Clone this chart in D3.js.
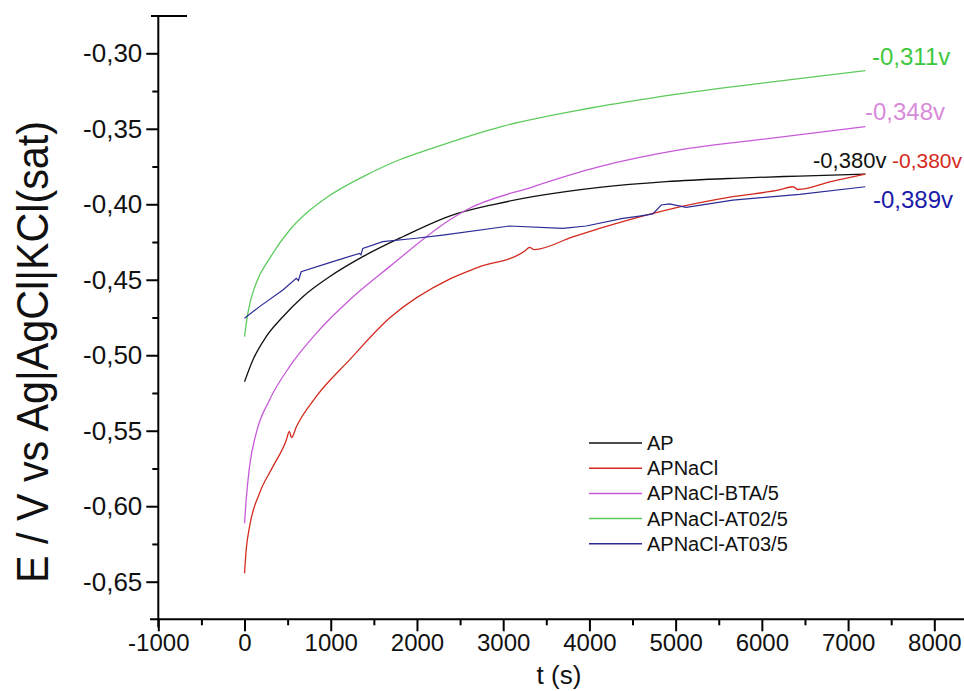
<!DOCTYPE html>
<html>
<head>
<meta charset="utf-8">
<script src="https://cdn.jsdelivr.net/npm/d3@7"></script>
<style>
  body { margin: 0; background: white; }
  text { font-family: "Liberation Sans", Arial, sans-serif; }
</style>
</head>
<body>
<div id="main-section"></div>
<script>
// values
const seriesNames = ["AP", "APNaCl", "APNaCl-BTA/5", "APNaCl-AT02/5", "APNaCl-AT03/5"];
const seriesColors = ["#111111", "#d42a1e", "#c75ad8", "#5ccb5c", "#2b2b96"];

const tAP = [0, 97, 251, 445, 677, 986, 1372, 1836, 2378, 2900, 3344, 4117, 4891, 5664, 6437, 7200];
const vAP = [-0.5175, -0.5031, -0.4877, -0.4745, -0.4612, -0.448, -0.4347, -0.4215, -0.4078, -0.400, -0.395, -0.3888, -0.385, -0.3828, -0.3813, -0.380];

const tNaCl = [0, 19, 58, 174, 329, 480, 520, 545, 600, 831, 1218, 1682, 2378, 2700, 3250, 3306, 3360, 3800, 4117, 4891, 5664, 6200, 6360, 6420, 6800, 7200];
const vNaCl = [-0.6444, -0.629, -0.6136, -0.5914, -0.5738, -0.557, -0.5505, -0.5545, -0.5475, -0.5274, -0.5031, -0.4754, -0.4496, -0.4420, -0.4310, -0.4285, -0.4300, -0.4218, -0.4160, -0.4038, -0.395, -0.3905, -0.3884, -0.3902, -0.3850, -0.380];

const tBTA = [0, 19, 58, 135, 290, 522, 831, 1218, 1682, 2378, 2571, 3344, 4117, 5045, 6000, 7200];
const vBTA = [-0.6113, -0.5959, -0.5738, -0.5517, -0.5296, -0.5076, -0.4855, -0.4634, -0.4413, -0.4104, -0.4038, -0.3884, -0.3751, -0.364, -0.357, -0.3486];

const tAT02 = [0, 38, 135, 290, 522, 715, 966, 1400, 1798, 2146, 3000, 4000, 5000, 6000, 7200];
const vAT02 = [-0.4877, -0.4722, -0.4523, -0.4360, -0.4172, -0.406, -0.3950, -0.3810, -0.3705, -0.3635, -0.3482, -0.3364, -0.3272, -0.3198, -0.3115];

const tAT03 = [0, 174, 445, 600, 625, 657, 1024, 1334, 1350, 1372, 1604, 1990, 2300, 3073, 3692, 3963, 4388, 4581, 4736, 4833, 4929, 5123, 5664, 6437, 7200];
const vAT03 = [-0.4755, -0.4678, -0.4568, -0.449, -0.4505, -0.4447, -0.438, -0.4325, -0.4335, -0.4292, -0.4248, -0.4225, -0.4204, -0.4144, -0.4159, -0.4144, -0.4093, -0.4078, -0.4064, -0.4005, -0.3998, -0.402, -0.3972, -0.3934, -0.3884];

const endLabels = ["-0,380v", "-0,380v", "-0,348v", "-0,311v", "-0,389v"];
const endLabelColors = ["#111111", "#d42a1e", "#d98bd9", "#3fc83f", "#1c1caa"];

const xMajor = [-1000, 0, 1000, 2000, 3000, 4000, 5000, 6000, 7000, 8000];
const xMinor = [-500, 500, 1500, 2500, 3500, 4500, 5500, 6500, 7500];
const yMajor = [-0.30, -0.35, -0.40, -0.45, -0.50, -0.55, -0.60, -0.65];
const yMinor = [-0.325, -0.375, -0.425, -0.475, -0.525, -0.575, -0.625];

const W = 964, H = 691;

const svg = d3.select("#main-section")
  .append("svg")
    .attr("width", W)
    .attr("height", H)
    .style("background-color", "white");

const x = d3.scaleLinear().domain([-1000, 8000]).range([158.3, 934.3]);
const y = d3.scaleLinear().domain([-0.30, -0.65]).range([53.3, 581.7]);

const axisY0 = 619.3, axisX0 = 158.3;

// x axis
svg.append("g")
  .attr("transform", "translate(0," + axisY0 + ")")
  .call(d3.axisBottom(x).tickValues(xMinor).tickSize(6).tickFormat(""))
  .call(g => g.select(".domain").remove())
  .call(g => g.selectAll("line").attr("stroke-width", 2));

svg.append("g")
  .attr("transform", "translate(0," + axisY0 + ")")
  .call(d3.axisBottom(x).tickValues(xMajor).tickSize(12).tickPadding(3).tickFormat(d => String(d)))
  .call(g => g.select(".domain").remove())
  .call(g => g.selectAll("line").attr("stroke-width", 2))
  .call(g => g.selectAll("text")
    .attr("font-size", 24)
    .attr("fill", "#111")
    .style("font-family", "'Liberation Sans', Arial, sans-serif"));

svg.append("line")
  .attr("x1", 150).attr("x2", W)
  .attr("y1", axisY0).attr("y2", axisY0)
  .attr("stroke", "black").attr("stroke-width", 2);

// y axis
svg.append("g")
  .attr("transform", "translate(" + axisX0 + ",0)")
  .call(d3.axisLeft(y).tickValues(yMinor).tickSize(6).tickFormat(""))
  .call(g => g.select(".domain").remove())
  .call(g => g.selectAll("line").attr("stroke-width", 2));

svg.append("g")
  .attr("transform", "translate(" + axisX0 + ",0)")
  .call(d3.axisLeft(y).tickValues(yMajor).tickSize(12).tickPadding(4)
    .tickFormat(d => d.toFixed(2).replace(".", ",")))
  .call(g => g.select(".domain").remove())
  .call(g => g.selectAll("line").attr("stroke-width", 2))
  .call(g => g.selectAll("text")
    .attr("font-size", 26)
    .attr("fill", "#111")
    .style("font-family", "'Liberation Sans', Arial, sans-serif"));

svg.append("line")
  .attr("x1", axisX0).attr("x2", axisX0)
  .attr("y1", 16).attr("y2", axisY0 + 8)
  .attr("stroke", "black").attr("stroke-width", 2);

svg.append("line")
  .attr("x1", 151).attr("x2", 187)
  .attr("y1", 16).attr("y2", 16)
  .attr("stroke", "black").attr("stroke-width", 2);

// axis titles
svg.append("text")
  .attr("x", 559)
  .attr("y", 684)
  .attr("text-anchor", "middle")
  .attr("font-size", 26)
  .attr("fill", "#111")
  .text("t (s)");

svg.append("text")
  .attr("transform", "translate(48,352) rotate(-90)")
  .attr("text-anchor", "middle")
  .attr("font-size", 44)
  .attr("textLength", 462)
  .attr("lengthAdjust", "spacingAndGlyphs")
  .attr("fill", "#111")
  .text("E / V vs Ag|AgCl|KCl(sat)");

// curves
const series = [
  {t: tAP, v: vAP, curve: d3.curveMonotoneX, w: 1.3},
  {t: tNaCl, v: vNaCl, curve: d3.curveMonotoneX, w: 1.3},
  {t: tBTA, v: vBTA, curve: d3.curveMonotoneX, w: 1.3},
  {t: tAT02, v: vAT02, curve: d3.curveMonotoneX, w: 1.3},
  {t: tAT03, v: vAT03, curve: d3.curveLinear, w: 1.2}
];

series.forEach(function(s, i) {
  const pts = s.t.map((t, j) => [t, s.v[j]]);
  svg.append("path")
    .attr("d", d3.line().x(d => x(d[0])).y(d => y(d[1])).curve(s.curve)(pts))
    .attr("fill", "none")
    .attr("stroke", seriesColors[i])
    .attr("stroke-width", s.w);
});

// end labels
const endPos = [[813, 168], [892, 168], [865, 120], [872, 65], [873, 208]];
const endSize = [22, 21, 24, 24, 24];
endLabels.forEach(function(lbl, i) {
  svg.append("text")
    .attr("x", endPos[i][0])
    .attr("y", endPos[i][1])
    .attr("font-size", endSize[i])
    .attr("fill", endLabelColors[i])
    .text(lbl);
});

// legend
const legend = svg.append("g").attr("transform", "translate(589,443)");
seriesNames.forEach(function(name, i) {
  const row = legend.append("g").attr("transform", "translate(0," + (i * 25.2) + ")");
  row.append("line")
    .attr("x1", 0).attr("x2", 53)
    .attr("y1", 0).attr("y2", 0)
    .attr("stroke", seriesColors[i])
    .attr("stroke-width", 1.5);
  row.append("text")
    .attr("x", 58)
    .attr("y", 7)
    .attr("font-size", 20)
    .attr("fill", "#111")
    .text(name);
});
</script>
</body>
</html>
